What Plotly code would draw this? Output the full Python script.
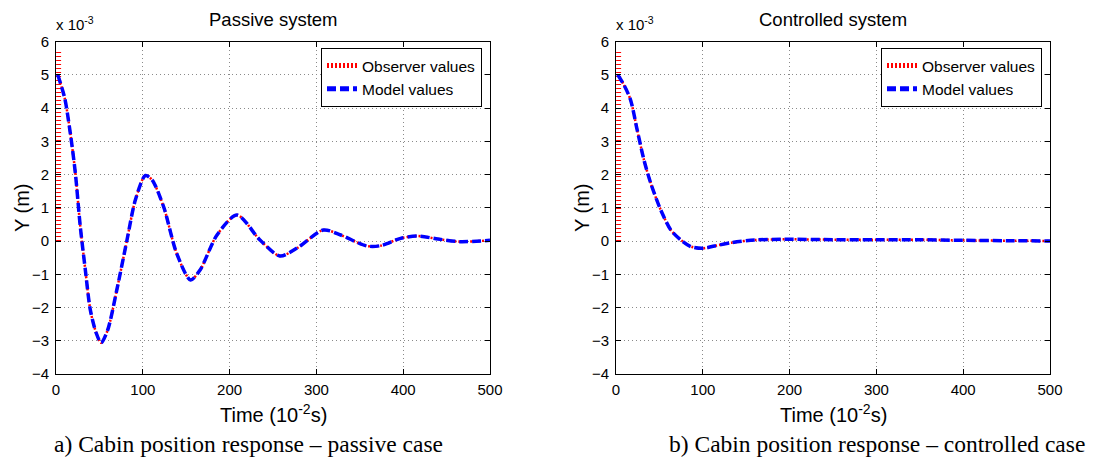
import plotly.graph_objects as go

# ---------------- data (Y in units of 1e-3 m, time in 1e-2 s) ----------------
passive_t = [2, 10, 16.5, 22.3, 28, 33.8, 39.6, 46.5, 52, 59.5, 70, 81.8, 91.4, 103, 110.6,
             124, 139, 155, 166, 185.5, 208.5, 235, 258, 278, 308, 328, 358, 374, 397, 416,
             440, 465, 500]
passive_y = [5.0, 4.3, 3.24, 2.04, 0.43, -0.87, -2.08, -2.78, -3.06, -2.68, -1.48, 0.03, 1.23,
             1.97, 1.84, 1.03, -0.37, -1.17, -0.87, 0.18, 0.78, 0.03, -0.45, -0.21, 0.33, 0.18,
             -0.15, -0.14, 0.08, 0.15, 0.06, -0.02, 0.02]

controlled_t = [2, 9, 16.7, 24.4, 32.2, 40, 51.6, 63.2, 74.8, 86.4, 100, 113.6, 133, 160, 191,
                250, 300, 350, 400, 450, 500]
controlled_y = [5.0, 4.7, 4.25, 3.34, 2.44, 1.74, 0.93, 0.33, 0.03, -0.17, -0.22, -0.15, -0.05,
                0.03, 0.05, 0.04, 0.04, 0.04, 0.02, 0.01, 0.0]

# observer start-up transient (then it coincides with the model values)
observer_head_t = [3, 3]
observer_head_y = [0.0, 5.75]

x_ticks = [0, 100, 200, 300, 400, 500]
y_ticks = [-4, -3, -2, -1, 0, 1, 2, 3, 4, 5, 6]

titles = ["Passive system", "Controlled system"]
captions = ["a) Cabin position response \u2013 passive case",
            "b) Cabin position response \u2013 controlled case"]

SANS = "Liberation Sans, Arial"
SERIF = "Liberation Serif, Times New Roman"
W, H = 1097, 457
dom_x = [[56 / W, 490 / W], [616 / W, 1050 / W]]
dom_y = [1 - 374 / H, 1 - 41.5 / H]

fig = go.Figure()

series = [(passive_t, passive_y), (controlled_t, controlled_y)]
for i, (t, y) in enumerate(series):
    xa = "x" if i == 0 else "x2"
    ya = "y" if i == 0 else "y2"
    lg = "legend" if i == 0 else "legend2"
    # observer head (jump)
    fig.add_trace(go.Scatter(x=observer_head_t, y=observer_head_y, mode="lines",
                             line=dict(color="red", width=5, dash="1px,3px"),
                             xaxis=xa, yaxis=ya, showlegend=False, hoverinfo="skip"))
    # observer
    fig.add_trace(go.Scatter(x=t, y=y, mode="lines", name="Observer values",
                             line=dict(color="red", width=2.5, dash="2px,2px", shape="spline", smoothing=0.8),
                             xaxis=xa, yaxis=ya, legend=lg))
    # model
    fig.add_trace(go.Scatter(x=t, y=y, mode="lines", name="Model values",
                             line=dict(color="blue", width=3.5, dash="9px,4px", shape="spline", smoothing=0.8),
                             xaxis=xa, yaxis=ya, legend=lg))

axis_common = dict(showline=True, linecolor="black", linewidth=1, mirror="allticks",
                   ticks="inside", ticklen=5, tickcolor="black", automargin=False,
                   showgrid=True, gridcolor="#8a8a8a", griddash="1px,3px", gridwidth=1,
                   zeroline=False, tickfont=dict(family=SANS, size=15, color="black"))

for i in range(2):
    sfx = "" if i == 0 else "2"
    fig.update_layout(**{
        "xaxis" + sfx: dict(domain=dom_x[i], range=[0, 500], tickvals=x_ticks,
                            anchor="y" + sfx, ticklabelstandoff=2, **axis_common),
        "yaxis" + sfx: dict(domain=dom_y, range=[-4, 6], tickvals=y_ticks,
                            anchor="x" + sfx, ticklabelstandoff=3, **axis_common),
    })

legend_common = dict(bgcolor="white", bordercolor="black", borderwidth=1,
                     font=dict(family=SANS, size=15.5, color="black"),
                     xanchor="right", yanchor="top", tracegroupgap=0,
                     itemwidth=30, itemsizing="constant")
fig.update_layout(
    legend=dict(x=482 / W, y=1 - 48 / H, **legend_common),
    legend2=dict(x=1042 / W, y=1 - 48 / H, **legend_common),
)

annotations = []
for i in range(2):
    cx = (dom_x[i][0] + dom_x[i][1]) / 2
    annotations.append(dict(text=titles[i], x=cx, y=1 - 19 / H, xref="paper", yref="paper",
                            showarrow=False, xanchor="center", yanchor="middle",
                            font=dict(family=SANS, size=18.5, color="black")))
    annotations.append(dict(text="x 10<sup>-3</sup>", x=(dom_x[i][0] * W - 2) / W, y=1 - 23 / H,
                            xref="paper", yref="paper", showarrow=False,
                            xanchor="left", yanchor="middle",
                            font=dict(family=SANS, size=15, color="black")))
    annotations.append(dict(text="Time (10<sup>-2</sup>s)", x=cx, y=1 - 413 / H,
                            xref="paper", yref="paper", showarrow=False,
                            xanchor="center", yanchor="middle",
                            font=dict(family=SANS, size=20, color="black")))
    annotations.append(dict(text="Y (m)", x=(dom_x[i][0] * W - 34) / W, y=1 - 208 / H,
                            xref="paper", yref="paper", showarrow=False, textangle=-90,
                            xanchor="center", yanchor="middle",
                            font=dict(family=SANS, size=20, color="black")))
cap_x = [248 / W, 877 / W]
for i in range(2):
    annotations.append(dict(text=captions[i], x=cap_x[i], y=1 - 444 / H, xref="paper", yref="paper",
                            showarrow=False, xanchor="center", yanchor="middle",
                            font=dict(family=SERIF, size=23.5, color="black")))

fig.update_layout(width=W, height=H, margin=dict(l=0, r=0, t=0, b=0),
                  paper_bgcolor="white", plot_bgcolor="white",
                  annotations=annotations)

fig.write_html("out.html", config={"displayModeBar": False},
               post_script="document.body.style.margin='0px';")
